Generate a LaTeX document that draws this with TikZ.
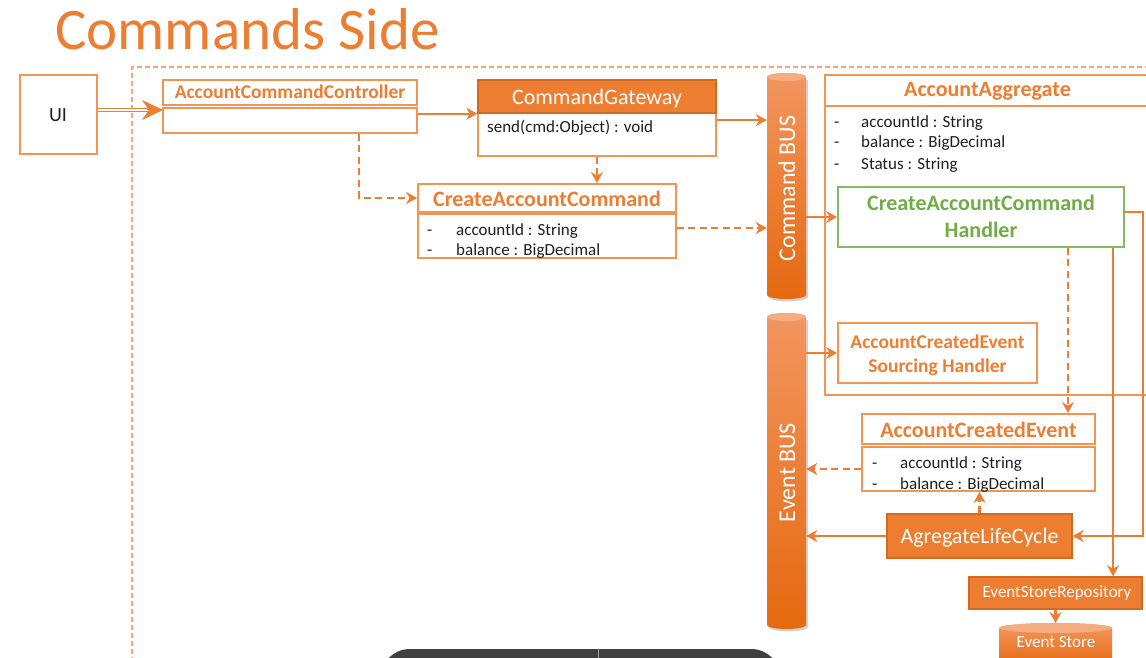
\documentclass[tikz,border=0pt]{standalone}
\usepackage{fontspec}
\setmainfont{Carlito}
\usetikzlibrary{arrows.meta,calc}
\definecolor{orng}{HTML}{ED7D31}
\definecolor{obord}{HTML}{F29552}
\definecolor{odark}{HTML}{D4691F}
\definecolor{ocont}{HTML}{F4A87A}
\definecolor{grn}{HTML}{70AD47}
\definecolor{ink}{HTML}{1F1F1F}
\definecolor{cyltop}{HTML}{F29660}
\definecolor{cylbot}{HTML}{E5690F}
\definecolor{cylcap}{HTML}{F5AC80}
\definecolor{barbg}{HTML}{404040}
\begin{document}
\begin{tikzpicture}[x=1pt,y=-1pt,
  frame/.style={draw=obord, line width=1.8pt, fill=white, inner sep=0pt},
  solidbox/.style={draw=odark, line width=1.4pt, fill=orng, inner sep=0pt},
  handlerbox/.style={draw=grn!85, line width=1.8pt, fill=white, inner sep=0pt},
  anchorbox/.style={inner sep=0pt},
  txt/.style={inner sep=0pt, anchor=base},
  ltxt/.style={inner sep=0pt, anchor=base west, text=ink, font=\fontsize{17}{20}\selectfont},
  hdr/.style={txt, text=orng, font=\fontsize{22}{24}\selectfont\bfseries},
  shdr/.style={txt, text=orng, font=\fontsize{19.5}{22}\selectfont\bfseries},
  wtxt/.style={txt, text=white, font=\fontsize{22}{24}\selectfont},
  cylshade/.style={top color=cyltop, bottom color=cylbot},
  cylshadow/.style={fill=black, opacity=0.18},
  arr/.style={draw=orng, line width=2.1pt, -{Stealth[length=11pt,width=12pt,inset=3.5pt]}},
  darr/.style={arr, dash pattern=on 7pt off 4.5pt},
]
\useasboundingbox (0,0) rectangle (1146,658);
\clip (0,0) rectangle (1146,658);

% heading
\node[txt, anchor=base west, text=orng, font=\fontsize{59}{64}\selectfont] (heading) at (55,50) {Commands Side};

% dashed boundary of the service
\draw[ocont, line width=1.2pt, dash pattern=on 5pt off 3pt] (1150,67) -- (132,67) -- (132,662);

% UI
\node[frame, minimum width=77, minimum height=79] (ui) at (58.5,114.5) {};
\node[txt, text=ink, font=\fontsize{20}{24}\selectfont] (uiL) at (58,122) {UI};

% AccountCommandController
\node[frame, minimum width=254, minimum height=25] (accT) at (290,92.5) {};
\node[frame, minimum width=254, minimum height=25] (accB) at (290,120.5) {};
\node[shdr] (accL) at (290,99) {AccountCommandController};

% CommandGateway
\node[frame, minimum width=238, minimum height=43] (cgB) at (597,134.5) {};
\node[solidbox, minimum width=238, minimum height=33] (cgT) at (597,96.5) {};
\node[wtxt] (cgL) at (597,105) {CommandGateway};
\node[ltxt] (cgM) at (487,133) {send(cmd:Object) : void};

% CreateAccountCommand
\node[frame, minimum width=258, minimum height=28] (cacT) at (547,198) {};
\node[frame, minimum width=258, minimum height=44] (cacB) at (547,236) {};
\node[hdr] (cacL) at (547,206) {CreateAccountCommand};
\node[ltxt] (cacD1) at (427,235) {-};
\node[ltxt] (cacF1) at (456,235) {accountId : String};
\node[ltxt] (cacD2) at (427,255) {-};
\node[ltxt] (cacF2) at (456,255) {balance : BigDecimal};

% Command BUS
\path[cylshadow] (769,80) -- (769,297) arc[start angle=180,end angle=0,x radius=19.5,y radius=4.5]
  -- (808,80) -- cycle;
\path[cylshade] (767,77) -- (767,295) arc[start angle=180,end angle=0,x radius=19.5,y radius=4]
  -- (806,77) arc[start angle=0,end angle=-180,x radius=19.5,y radius=4] -- cycle;
\fill[cylcap] (786.5,77) ellipse [x radius=19.5, y radius=4];
\node[anchorbox, minimum width=39, minimum height=226] (cbus) at (786.5,186) {};
\node[txt, rotate=90, text=white, font=\fontsize{24}{28}\selectfont] (cbusL) at (795,188.5) {Command BUS};

% Event BUS
\path[cylshadow] (769,320) -- (769,627) arc[start angle=180,end angle=0,x radius=19.5,y radius=4.5]
  -- (808,320) -- cycle;
\path[cylshade] (767,317) -- (767,625) arc[start angle=180,end angle=0,x radius=19.5,y radius=4]
  -- (806,317) arc[start angle=0,end angle=-180,x radius=19.5,y radius=4] -- cycle;
\fill[cylcap] (786.5,317) ellipse [x radius=19.5, y radius=4];
\node[anchorbox, minimum width=39, minimum height=317] (ebus) at (786.5,471.5) {};
\node[txt, rotate=90, text=white, font=\fontsize{24}{28}\selectfont] (ebusL) at (795,472.5) {Event BUS};

% AccountAggregate
\node[frame, minimum width=340, minimum height=320, anchor=north west] (agg) at (824,74) {};
\draw[obord, line width=1.8pt] ([yshift=-32pt]agg.north west) -- ([yshift=-32pt]agg.north east);
\node[hdr] (aggL) at (987.5,97) {AccountAggregate};
\node[ltxt] (aggD1) at (834,128) {-};
\node[ltxt] (aggF1) at (861,128) {accountId : String};
\node[ltxt] (aggD2) at (834,148) {-};
\node[ltxt] (aggF2) at (861,148) {balance : BigDecimal};
\node[ltxt] (aggD3) at (834,169) {-};
\node[ltxt] (aggF3) at (861,169) {Status : String};

% command handler
\node[handlerbox, minimum width=286, minimum height=60] (hnd) at (981,217) {};
\node[txt, text=grn, font=\fontsize{22}{24}\selectfont\bfseries] (hndA) at (981,210) {CreateAccountCommand};
\node[txt, text=grn, font=\fontsize{22}{24}\selectfont\bfseries] (hndB) at (981,237) {Handler};

% event sourcing handler
\node[frame, minimum width=199, minimum height=60] (src) at (937.5,353) {};
\node[shdr] (srcA) at (937.5,348) {AccountCreatedEvent};
\node[shdr] (srcB) at (937.5,372) {Sourcing Handler};

% AccountCreatedEvent
\node[frame, minimum width=233, minimum height=30] (aceT) at (978.5,429) {};
\node[frame, minimum width=233, minimum height=44] (aceB) at (978.5,469) {};
\node[hdr] (aceL) at (978.5,437) {AccountCreatedEvent};
\node[ltxt] (aceD1) at (872,468) {-};
\node[ltxt] (aceF1) at (900,468) {accountId : String};
\node[ltxt] (aceD2) at (872,489) {-};
\node[ltxt] (aceF2) at (900,489) {balance : BigDecimal};

% AgregateLifeCycle
\node[solidbox, minimum width=185, minimum height=44] (alc) at (979.5,536) {};
\node[wtxt] (alcL) at (979.5,543) {AgregateLifeCycle};

% EventStoreRepository
\node[solidbox, minimum width=173, minimum height=32] (esr) at (1055.5,593) {};
\node[txt, text=white, font=\fontsize{17}{20}\selectfont] (esrL) at (1057,597) {EventStoreRepository};

% Event Store
\path[cylshade] (999,628) -- (999,662) arc[start angle=180,end angle=0,x radius=56.5,y radius=5]
  -- (1112,628) arc[start angle=0,end angle=-180,x radius=56.5,y radius=5] -- cycle;
\fill[cylcap] (1055.5,628) ellipse [x radius=56.5, y radius=5];
\node[anchorbox, minimum width=113, minimum height=40, anchor=north] (es) at (1055.5,623) {};
\node[txt, text=white, font=\fontsize{17}{20}\selectfont] (esL) at (1056,647) {Event Store};

% connectors
\coordinate (uiin) at (163,110);
\draw[orng, line width=1.4pt, double=white, double distance=2pt, shorten >=14pt] (ui.east |- uiin) -- (uiin);
\draw[orng, line width=1pt, -{Stealth[length=21pt,width=20pt,inset=7pt]}] ([xshift=-16pt]uiin) -- (uiin);

\draw[arr] (accB.east |- cgT.south west) -- (cgT.south west);
\draw[arr] ([yshift=-8pt]cgB.north east) -- ([yshift=-8pt]cgB.north east -| cbus.west);
\draw[darr] (cgB.south) -- (cgB.south |- cacT.north);
\draw[darr] ([xshift=69pt]accB.south) |- (cacT.west);
\draw[darr] ([yshift=8pt]cacB.east) -- ([yshift=8pt]cacB.east -| cbus.west);
\draw[arr] (hnd.west -| cbus.east) -- (hnd.west);
\draw[arr] (src.west -| ebus.east) -- (src.west);
\draw[darr] ([xshift=87pt]hnd.south) -- ([xshift=87pt]hnd.south |- aceT.north);
\draw[darr] (aceB.west) -- (aceB.west -| ebus.east);
\draw[darr] (alc.north) -- (alc.north |- aceB.south);
\draw[arr] (alc.west) -- (alc.west -| ebus.east);
\draw[arr] ([yshift=5pt]hnd.east) -- ++(18,0) |- (alc.east);
\draw[arr] ([xshift=132pt]hnd.south) -- ([xshift=132pt]hnd.south |- esr.north);
\draw[arr] (esr.south) -- (esr.south |- es.north);

% player bar along the lower edge
\fill[barbg, rounded corners=30pt] (380,649) rectangle (781,720);
\draw[gray!70, line width=0.8pt] (598,649) -- (598,660);
\end{tikzpicture}
\end{document}
